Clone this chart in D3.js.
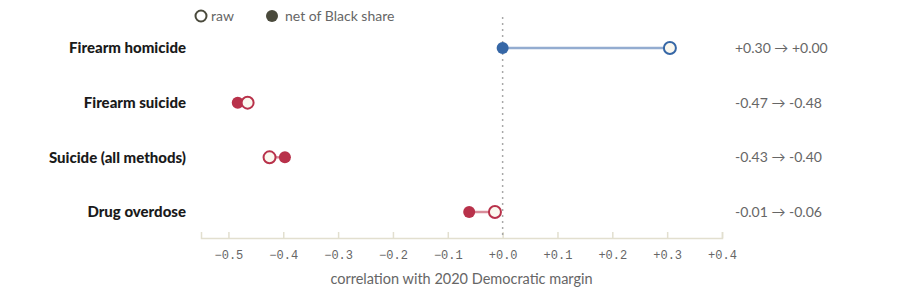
<!DOCTYPE html>
<html>
<head>
<meta charset="utf-8">
<script src="https://cdn.jsdelivr.net/npm/d3@7"></script>
<style>
  body { margin: 0; background: #fff; }
  svg { display: block; font-family: Lato, "Open Sans", sans-serif; }
</style>
</head>
<body>
<svg id="chart" width="900" height="296"></svg>
<script>
const categories = ['Firearm homicide', 'Firearm suicide', 'Suicide (all methods)', 'Drug overdose'];
const rawValues = [0.305, -0.465, -0.425, -0.014];
const netValues = [0.0, -0.483, -0.397, -0.061];
const rawLabels = ['+0.30', '-0.47', '-0.43', '-0.01'];
const netLabels = ['+0.00', '-0.48', '-0.40', '-0.06'];
const tickValues = [-0.5, -0.4, -0.3, -0.2, -0.1, 0, 0.1, 0.2, 0.3, 0.4];

const svg = d3.select('#chart');
const blue = '#3667a6', red = '#b8314a';
const lineBlue = '#93acd0', lineRed = '#d98c9a';

const x = d3.scaleLinear().domain([-0.55, 0.4]).range([201, 722]);
const y = d3.scalePoint().domain(categories).range([48, 212]);

// axis
const axisY = 238;
const axis = svg.append('g')
    .attr('transform', 'translate(0,' + axisY + ')')
    .call(d3.axisBottom(x).tickValues(tickValues).tickSize(-6).tickSizeOuter(-6)
      .tickFormat(d => (d >= 0 ? '+' : '\u2212') + Math.abs(d).toFixed(1)));
axis.select('.domain').attr('stroke', '#e2dfcf').attr('stroke-width', 1.5);
axis.selectAll('.tick line').attr('stroke', '#e2dfcf').attr('stroke-width', 1.5);
axis.selectAll('.tick text')
    .attr('y', 12)
    .attr('fill', '#666')
    .style('font-family', '"Liberation Mono", "DejaVu Sans Mono", monospace')
    .style('font-size', '12px');

svg.append('text')
    .attr('x', (x.range()[0] + x.range()[1]) / 2)
    .attr('y', 284)
    .attr('text-anchor', 'middle')
    .attr('fill', '#666')
    .style('font-size', '14.5px')
    .text('correlation with 2020 Democratic margin');

// zero reference
svg.append('line')
    .attr('x1', x(0)).attr('x2', x(0))
    .attr('y1', 17).attr('y2', axisY)
    .attr('stroke', '#a8a8a8')
    .attr('stroke-width', 1.5)
    .attr('stroke-dasharray', '2,4');

// legend
const legend = svg.append('g');
legend.append('circle').attr('cx', 201).attr('cy', 16).attr('r', 5.5)
    .attr('fill', '#fff').attr('stroke', '#4a4a3c').attr('stroke-width', 2);
legend.append('text').attr('x', 211).attr('y', 21)
    .attr('fill', '#666').style('font-size', '14px').text('raw');
legend.append('circle').attr('cx', 272).attr('cy', 16).attr('r', 6)
    .attr('fill', '#4a4a3c');
legend.append('text').attr('x', 285).attr('y', 21)
    .attr('fill', '#666').style('font-size', '14px').text('net of Black share');

const rows = categories.map((c, i) => ({
  name: c, raw: rawValues[i], net: netValues[i], rawLabel: rawLabels[i], netLabel: netLabels[i]
}));

const row = svg.selectAll('g.row')
  .data(rows)
  .enter().append('g')
    .attr('class', 'row')
    .attr('transform', d => 'translate(0,' + y(d.name) + ')');

row.append('text')
    .attr('x', 186)
    .attr('dy', '.35em')
    .attr('text-anchor', 'end')
    .attr('fill', '#1a1a1a')
    .style('font-weight', 900)
    .style('font-size', '15px')
    .text(d => d.name);

row.append('line')
    .attr('x1', d => x(d.raw))
    .attr('x2', d => x(d.net))
    .attr('stroke', d => d.raw > 0 ? lineBlue : lineRed)
    .attr('stroke-width', 2.5);

row.append('circle')
    .attr('cx', d => x(d.net))
    .attr('r', 6)
    .attr('fill', d => d.raw > 0 ? blue : red);

row.append('circle')
    .attr('cx', d => x(d.raw))
    .attr('r', 6)
    .attr('fill', '#fbf8ef')
    .attr('stroke', d => d.raw > 0 ? blue : red)
    .attr('stroke-width', 2);

row.append('text')
    .attr('x', 735)
    .attr('dy', '.35em')
    .attr('fill', '#666')
    .style('font-size', '14px')
    .text(d => d.rawLabel + ' \u2192 ' + d.netLabel);
</script>
</body>
</html>
